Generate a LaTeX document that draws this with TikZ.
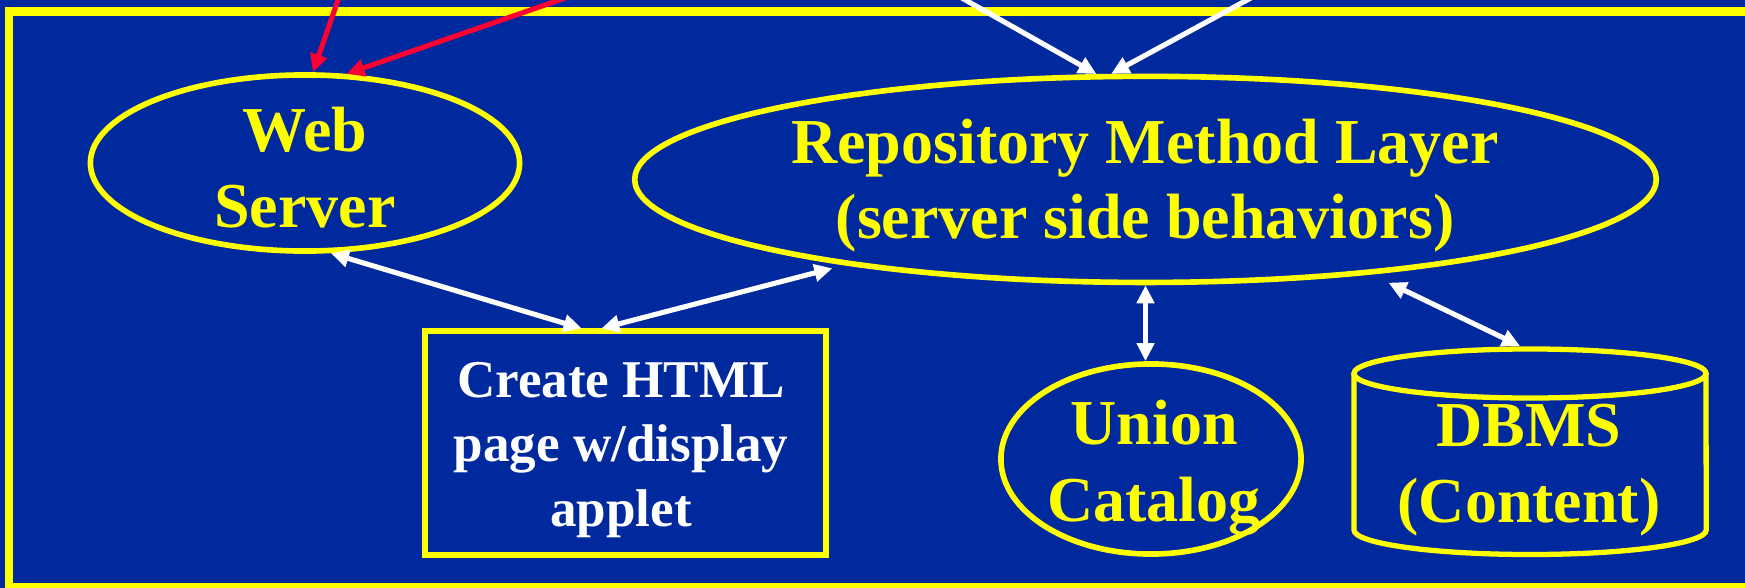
\documentclass[tikz,border=0pt]{standalone}
\usepackage{fontspec}
\setmainfont{Liberation Serif}
\usetikzlibrary{arrows.meta,shapes.geometric}
\definecolor{slideblue}{RGB}{0,41,158}
\definecolor{hiyellow}{RGB}{255,255,0}
\definecolor{linkred}{RGB}{255,0,51}

\begin{document}
\begin{tikzpicture}[x=0.01cm, y=-0.01cm,
  shapeline/.style={draw=hiyellow, line width=1.6pt},
  oval/.style={shapeline, ellipse, inner sep=0pt},
  bigtext/.style={text=hiyellow, font=\fontsize{18.2pt}{21.6pt}\selectfont\bfseries, align=center, inner sep=0pt},
  boxtext/.style={text=white, font=\fontsize{15.1pt}{18.35pt}\selectfont\bfseries, align=center, inner sep=0pt},
  tip/.tip={Triangle[length=0.18cm,width=0.17cm]},
  link/.style={white, line width=1.45pt, tip-tip},
  inlink/.style={line width=1.45pt, -tip},
]
\useasboundingbox (0,0) rectangle (1745,588);
\clip (0,0) rectangle (1745,588);
\fill[slideblue] (0,0) rectangle (1745,588);
\draw[hiyellow, line width=2.3pt] (9,11.5) rectangle (1760,587);

% web server
\node[oval, minimum width=4.29cm, minimum height=1.76cm] (ws) at (305,163) {};
\node[bigtext] (wst) at (305,168) {Web\\Server};

% repository method layer
\node[oval, minimum width=10.21cm, minimum height=2.06cm] (repo) at (1145.5,179.4) {};
\node[bigtext, font=\fontsize{18.2pt}{21.3pt}\selectfont\bfseries] (repot) at (1145,186) {Repository Method Layer\\(server side behaviors)};

% page generation box
\node[shapeline, line width=1.7pt, minimum width=4.005cm, minimum height=2.235cm, inner sep=0pt] (create) at (625.75,443.25) {};
\node[boxtext] (createt) at (621,449.7) {Create HTML\\page w/display\\applet};

% union catalog
\node[oval, minimum width=3.0cm, minimum height=1.9cm] (union) at (1151,459) {};
\node[bigtext, font=\fontsize{18.2pt}{21.9pt}\selectfont\bfseries] (uniont) at (1154,468) {Union\\Catalog};

% DBMS cylinder
\node[minimum width=3.52cm, minimum height=2.055cm, inner sep=0pt, outer sep=0pt] (db) at (1530,451.75) {};
\draw[hiyellow, line width=1.5pt] (1530,373.5) ellipse [x radius=1.76cm, y radius=0.245cm];
\draw[hiyellow, line width=1.5pt] (1354,373.5) -- (1354,530)
  arc [start angle=180, end angle=360, x radius=1.76cm, y radius=0.245cm] -- (1706,373.5);
\node[bigtext] (dbt) at (1529,470) {DBMS\\(Content)};

% incoming requests from above
\coordinate (in1) at (345,-20);
\coordinate (in2) at (617,-20);
\coordinate (in3) at (930,-20);
\coordinate (in4) at (1284,-20);
\draw[inlink, linkred] (in1) -- (ws.85);
\draw[inlink, linkred] (in2) -- (ws.65);
\draw[inlink, white] (in3) -- (repo.115);
\draw[inlink, white] (in4) -- (repo.108);

% two-way links
\draw[link] (ws.-74) -- (create.111);
\draw[link] (create.102) -- ([yshift=-0.5mm]repo.-165);
\draw[link] (repo.south) -- (repo.south |- union.north);
\draw[link] ([yshift=-1mm]repo.-21) -- ([xshift=-1mm,yshift=0.3mm]db.north);
\end{tikzpicture}
\end{document}
